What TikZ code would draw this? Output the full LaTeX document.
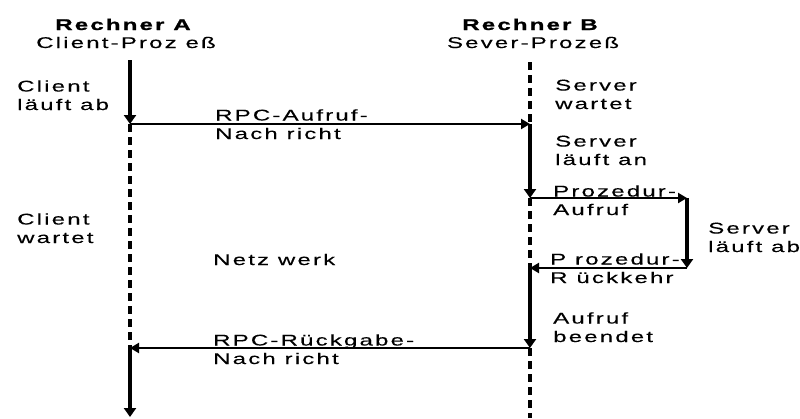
\documentclass[tikz,border=0pt]{standalone}
\usepackage{fontspec}
\newfontfamily\labfont[FakeStretch=1.55,LetterSpace=14,FakeBold=0.2,BoldFeatures={FakeBold=1.2}]{Liberation Sans}
\usetikzlibrary{arrows.meta}
\tikzset{
  lab/.style={inner sep=0pt,anchor=base west,align=left,font=\labfont\fontsize{15.5}{18.5}\selectfont},
  head/.style={inner sep=0pt,anchor=base,align=center,font=\labfont\fontsize{15.5}{18}\selectfont},
  active/.style={line width=4pt},
  waiting/.style={line width=4pt,dash pattern=on 8pt off 5pt},
  msg/.style={line width=2.5pt},
  tipthick/.style={-{Triangle[length=9pt,width=12pt]}},
  tipthin/.style={-{Triangle[length=9pt,width=10pt]}}
}
\begin{document}
\begin{tikzpicture}[x=1pt,y=-1pt]
\useasboundingbox (0,0) rectangle (800,418);
% coordinates
\coordinate (a0) at (130,60);
\coordinate (a1) at (130,124);
\coordinate (a2) at (130,348);
\coordinate (a3) at (130,417);
\coordinate (b0) at (530,62);
\coordinate (b1) at (530,124);
\coordinate (b2) at (530,198);
\coordinate (b3) at (530,268);
\coordinate (b4) at (530,348);
\coordinate (b5) at (530,418);
\coordinate (c1) at (687,198);
\coordinate (c2) at (687,268);
% headings
\node[head] (ha) at (123,30) {\bfseries Rechner A};
\node[head] (hac) at (126,48) {Client-Proz eß};
\node[head] (hb) at (530,30) {\bfseries Rechner B};
\node[head] (hbs) at (533,48) {Sever-Prozeß};
% labels (anchored at the baseline of the last line)
\node[lab] (l1) at (17,110) {Client\\läuft ab};
\node[lab] (l2) at (17,243) {Client\\wartet};
\node[lab] (m1) at (215,139) {RPC-Aufruf-\\Nach richt};
\node[lab] (m2) at (213,265) {Netz werk};
\node[lab] (m3) at (213,364) {RPC-Rückgabe-\\Nach richt};
\node[lab] (r1) at (555,109) {Server\\wartet};
\node[lab] (r2) at (555,165) {Server\\läuft an};
\node[lab] (r3) at (553,215) {Prozedur-\\Aufruf};
\node[lab] (r4) at (708,252) {Server\\läuft ab};
\node[lab] (r5) at (550,283) {P rozedur-\\R ückkehr};
\node[lab] (r6) at (553,342) {Aufruf\\beendet};
% client line
\draw[active,tipthick] (a0) -- (a1);
\draw[waiting] (a1) -- (a2);
\draw[active,tipthick] (a2) -- (a3);
% server line
\draw[waiting] (b0) -- (b1);
\draw[active,tipthick] (b1) -- (b2);
\draw[waiting] (b2) -- (b3);
\draw[active,tipthick] (b3) -- (b4);
\draw[waiting] (b4) -- (b5);
% procedure
\draw[active,tipthick] (c1) -- (c2);
% messages
\draw[msg,tipthin] (a1) -- (b1);
\draw[msg,tipthin] (b2) -- (c1);
\draw[msg,tipthin] (c2) -- (b3);
\draw[msg,tipthin] (b4) -- (a2);
\end{tikzpicture}
\end{document}
